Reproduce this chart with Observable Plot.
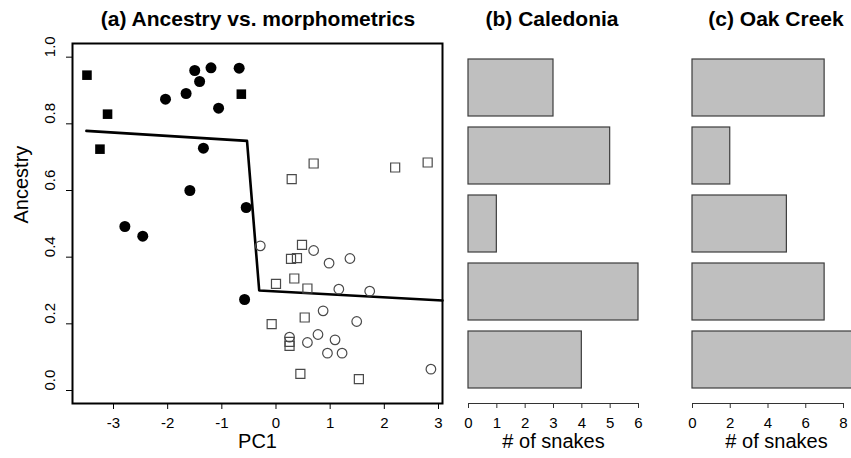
<!DOCTYPE html>
<html>
<head>
<meta charset="utf-8">
<script src="https://cdn.jsdelivr.net/npm/d3@7"></script>
<script src="https://cdn.jsdelivr.net/npm/@observablehq/plot@0.6"></script>
<style>
  html, body { margin: 0; padding: 0; background: white; overflow: hidden; }
  #wrap { position: relative; width: 851px; height: 458px; overflow: hidden; font-family: "Liberation Sans", Arial, Helvetica, sans-serif; }
  .panel { position: absolute; top: 0; }
  .title { position: absolute; top: 8px; font-weight: bold; font-size: 21px; line-height: 21px; white-space: nowrap; transform: translateX(-50%); color: #000; }
</style>
</head>
<body>
<div id="wrap">
  <div class="title" style="left:258px">(a) Ancestry vs. morphometrics</div>
  <div class="title" style="left:552px">(b) Caledonia</div>
  <div class="title" style="left:776px">(c) Oak Creek</div>
</div>
<script>
// ---- Panel (a) data: [PC1, ancestry] ----
const filledSquares = [[-3.49, 0.946], [-3.11, 0.829], [-3.25, 0.724], [-0.64, 0.889]];
const filledCircles = [
  [-2.04, 0.874], [-1.66, 0.891], [-1.50, 0.960], [-1.41, 0.927], [-1.20, 0.968],
  [-0.68, 0.967], [-1.06, 0.847], [-1.34, 0.727], [-1.59, 0.600], [-0.55, 0.549],
  [-2.79, 0.492], [-2.46, 0.463], [-0.58, 0.273]
];
const openSquares = [
  [0.695, 0.681], [0.29, 0.634], [2.20, 0.669], [2.80, 0.684], [0.48, 0.437],
  [0.277, 0.395], [0.387, 0.397], [0.338, 0.336], [0.0, 0.320], [0.58, 0.306],
  [0.53, 0.219], [-0.08, 0.199], [0.25, 0.146], [0.25, 0.134], [0.45, 0.050], [1.53, 0.034]
];
const openCircles = [
  [-0.29, 0.434], [0.695, 0.420], [0.98, 0.382], [1.365, 0.396], [1.16, 0.304],
  [1.73, 0.298], [0.87, 0.239], [1.49, 0.207], [0.775, 0.168], [1.09, 0.152],
  [0.58, 0.144], [0.95, 0.112], [1.22, 0.112], [0.25, 0.160], [2.86, 0.064]
];
const fitLine = [[-3.50, 0.779], [-0.535, 0.749], [-0.31, 0.300], [3.074, 0.270]];
const xTicksA = [-3, -2, -1, 0, 1, 2, 3];
const yTicksA = [0, 0.2, 0.4, 0.6, 0.8, 1.0];

// ---- Panels (b), (c) data: ancestry bins (top to bottom) and counts ----
const ancestryBins = ["0.8–1.0", "0.6–0.8", "0.4–0.6", "0.2–0.4", "0.0–0.2"];
const caledoniaCounts = [3, 5, 1, 6, 4];
const oakCreekCounts = [7, 2, 5, 7, 9];
const xTicksB = [0, 1, 2, 3, 4, 5, 6];
const xTicksC = [0, 2, 4, 6, 8];

const FONT = "'Liberation Sans', Arial, Helvetica, sans-serif";
const wrap = document.getElementById("wrap");

function place(svg, left) {
  const d = document.createElement("div");
  d.className = "panel";
  d.style.left = left + "px";
  d.appendChild(svg);
  wrap.appendChild(d);
}

// Panel (a)
const plotA = Plot.plot({
  width: 460, height: 458,
  marginLeft: 72, marginRight: 18, marginTop: 43, marginBottom: 55,
  style: {fontFamily: FONT, fontSize: "15px", background: "transparent", overflow: "visible", maxWidth: "none"},
  x: {domain: [-3.757, 3.074]},
  y: {domain: [-0.039, 1.041]},
  marks: [
    Plot.line(fitLine, {x: d => d[0], y: d => d[1], stroke: "black", strokeWidth: 2.6}),
    Plot.dot(openSquares, {x: d => d[0], y: d => d[1], symbol: "square", r: 5.1, stroke: "#4a4a4a", strokeWidth: 1.2, fill: "none"}),
    Plot.dot(openCircles, {x: d => d[0], y: d => d[1], symbol: "circle", r: 4.8, stroke: "#4a4a4a", strokeWidth: 1.2, fill: "none"}),
    Plot.dot(filledSquares, {x: d => d[0], y: d => d[1], symbol: "square", r: 5.4, fill: "black", stroke: "none"}),
    Plot.dot(filledCircles, {x: d => d[0], y: d => d[1], symbol: "circle", r: 5.5, fill: "black", stroke: "none"}),
    Plot.frame({stroke: "black", strokeWidth: 2}),
    Plot.axisX({ticks: xTicksA, tickSize: 6, tickPadding: 8, tickFormat: d => String(d), label: null, fontSize: 15, stroke: "black"}),
    Plot.axisY({ticks: yTicksA, tickSize: 6, tickFormat: () => "", label: null, stroke: "black"}),
    Plot.text(yTicksA, {y: d => d, frameAnchor: "left", dx: -22, rotate: -90, text: d => d.toFixed(1), fontSize: 15, fill: "black"}),
    Plot.text(["PC1"], {frameAnchor: "bottom", dy: 44, text: d => d, fontSize: 20, fill: "black"}),
    Plot.text(["Ancestry"], {frameAnchor: "left", dx: -51, rotate: -90, text: d => d, fontSize: 20, fill: "black"})
  ]
});
place(plotA, 0);

// Panel (b)
const dataB = ancestryBins.map((b, i) => ({bin: b, count: caledoniaCounts[i]}));
const plotB = Plot.plot({
  width: 215, height: 458,
  marginLeft: 23, marginRight: 22, marginTop: 57, marginBottom: 55,
  style: {fontFamily: FONT, fontSize: "15px", background: "transparent", overflow: "visible", maxWidth: "none"},
  x: {domain: [0, 6]},
  y: {type: "band", domain: ancestryBins, range: [57, 390], paddingInner: 0.16, paddingOuter: 0, axis: null},
  marks: [
    Plot.barX(dataB, {x: "count", y: "bin", fill: "#bfbfbf", stroke: "#3c3c3c", strokeWidth: 1.2}),
    Plot.frame({anchor: "bottom", stroke: "#333", strokeWidth: 1}),
    Plot.axisX({ticks: xTicksB, tickSize: 5, tickPadding: 9, tickFormat: d => String(d), label: null, fontSize: 15, stroke: "#333"}),
    Plot.text(["# of snakes"], {frameAnchor: "bottom", dy: 44, text: d => d, fontSize: 20, fill: "black"})
  ]
});
place(plotB, 445);

// Panel (c)
const dataC = ancestryBins.map((b, i) => ({bin: b, count: oakCreekCounts[i]}));
const plotC = Plot.plot({
  width: 181, height: 458,
  marginLeft: 22, marginRight: 8, marginTop: 57, marginBottom: 55,
  style: {fontFamily: FONT, fontSize: "15px", background: "transparent", overflow: "hidden", maxWidth: "none"},
  x: {domain: [0, 8]},
  y: {type: "band", domain: ancestryBins, range: [57, 390], paddingInner: 0.16, paddingOuter: 0, axis: null},
  marks: [
    Plot.barX(dataC, {x: "count", y: "bin", fill: "#bfbfbf", stroke: "#3c3c3c", strokeWidth: 1.2}),
    Plot.frame({anchor: "bottom", stroke: "#333", strokeWidth: 1}),
    Plot.axisX({ticks: xTicksC, tickSize: 5, tickPadding: 9, tickFormat: d => String(d), label: null, fontSize: 15, stroke: "#333"}),
    Plot.text(["# of snakes"], {frameAnchor: "bottom", dy: 44, dx: 8.5, text: d => d, fontSize: 20, fill: "black"})
  ]
});
place(plotC, 670);
</script>
</body>
</html>
